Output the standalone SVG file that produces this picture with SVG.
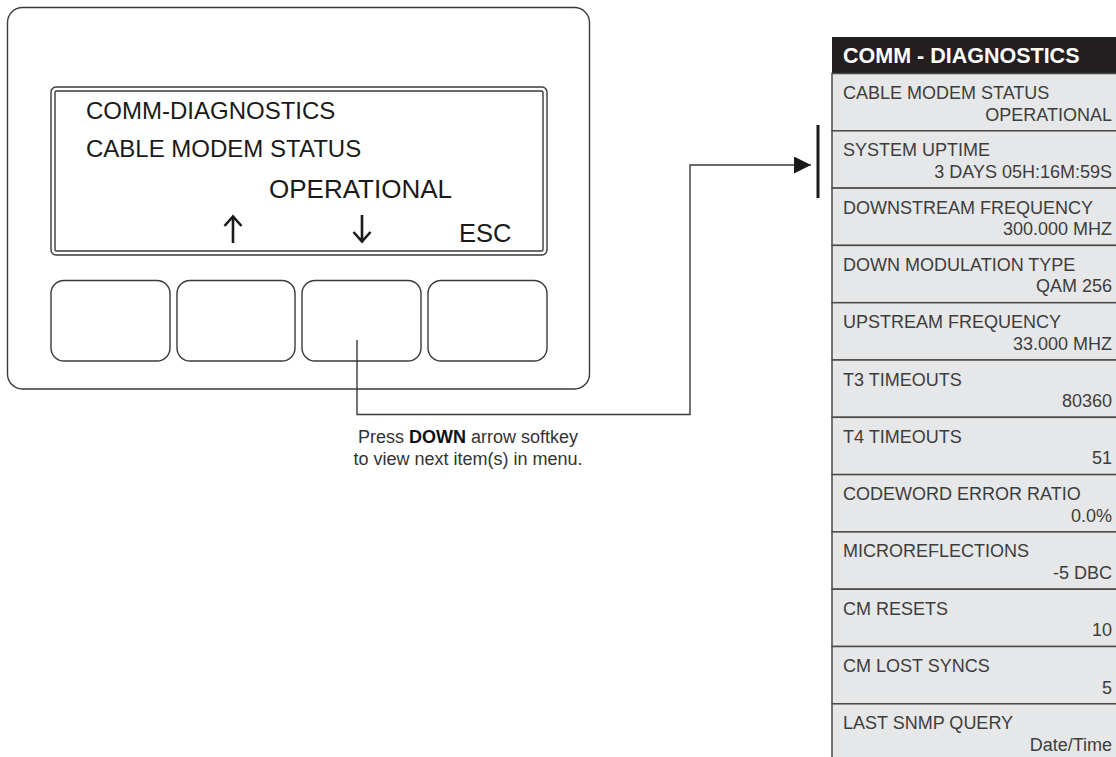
<svg xmlns="http://www.w3.org/2000/svg" width="1116" height="757" viewBox="0 0 1116 757">
<defs>
<style>
.ln{fill:none;stroke:#3a3a3a;stroke-width:1.4}
.lcd{font-family:"Liberation Sans",Arial,sans-serif;fill:#1a1a1a}
.row{fill:#e6e7e8;stroke:#4a4a4a;stroke-width:1.5}
.lab{font-family:"Liberation Sans",Arial,sans-serif;font-size:18px;fill:#3d3d3d}
.val{font-family:"Liberation Sans",Arial,sans-serif;font-size:18px;fill:#3d3d3d;text-anchor:end}
.cap{font-family:"Liberation Sans",Arial,sans-serif;font-size:18px;fill:#333;text-anchor:middle}
.arr{fill:none;stroke:#1a1a1a;stroke-width:2.6;stroke-linecap:butt}
</style>
<marker id="ah" viewBox="0 0 10 10" refX="10" refY="5" markerWidth="17" markerHeight="17" markerUnits="userSpaceOnUse" orient="auto">
<path d="M0,0 L10,5 L0,10 z" fill="#1a1a1a"/>
</marker>
</defs>

<g id="device">
<rect class="ln" x="7.5" y="7.5" width="582" height="381.5" rx="15"/>
</g>

<g id="screen">
<rect class="ln" x="51" y="87" width="496" height="168" rx="5"/>
<rect class="ln" x="55" y="91" width="488" height="160" rx="1.5"/>
<text class="lcd" x="86" y="119" font-size="24">COMM-DIAGNOSTICS</text>
<text class="lcd" x="86" y="157" font-size="24">CABLE MODEM STATUS</text>
<text class="lcd" x="269" y="198" font-size="26">OPERATIONAL</text>
<text class="lcd" x="459" y="242" font-size="25.5">ESC</text>
<path class="arr" d="M233,243 V217 M224.5,226 L233,216.5 L241.5,226"/>
<path class="arr" d="M362,215 V241 M353.5,232 L362,241.5 L370.5,232"/>
</g>

<g id="buttons">
<rect id="btn1" class="ln" x="51" y="280.5" width="119" height="80.5" rx="13"/>
<rect id="btn2" class="ln" x="177" y="280.5" width="118" height="80.5" rx="13"/>
<rect id="btn3" class="ln" x="302" y="280.5" width="119" height="80.5" rx="13"/>
<rect id="btn4" class="ln" x="428" y="280.5" width="119" height="80.5" rx="13"/>
</g>

<g id="connectors">
<path class="ln" d="M357,340 V414.5 H690 V165 H811" marker-end="url(#ah)"/>
<line x1="818" y1="125" x2="818" y2="198" stroke="#1a1a1a" stroke-width="3"/>
</g>

<g id="caption">
<text class="cap" x="468" y="443">Press <tspan font-weight="bold" fill="#111">DOWN</tspan> arrow softkey</text>
<text class="cap" x="468" y="465">to view next item(s) in menu.</text>
</g>

<g id="menu">
<rect x="832" y="37" width="290" height="36.5" fill="#231f20"/>
<text x="843" y="63" font-family="'Liberation Sans',Arial,sans-serif" font-size="21.5" font-weight="bold" fill="#ffffff">COMM - DIAGNOSTICS</text>

<g id="r1"><rect class="row" x="832" y="73.5" width="290" height="57.3"/><text class="lab" x="843" y="99">CABLE MODEM STATUS</text><text class="val" x="1112" y="120.5">OPERATIONAL</text></g>
<g id="r2"><rect class="row" x="832" y="130.8" width="290" height="57.3"/><text class="lab" x="843" y="156.3">SYSTEM UPTIME</text><text class="val" x="1112" y="177.8">3 DAYS 05H:16M:59S</text></g>
<g id="r3"><rect class="row" x="832" y="188.1" width="290" height="57.3"/><text class="lab" x="843" y="213.6">DOWNSTREAM FREQUENCY</text><text class="val" x="1112" y="235.1">300.000 MHZ</text></g>
<g id="r4"><rect class="row" x="832" y="245.4" width="290" height="57.3"/><text class="lab" x="843" y="270.9">DOWN MODULATION TYPE</text><text class="val" x="1112" y="292.4">QAM 256</text></g>
<g id="r5"><rect class="row" x="832" y="302.7" width="290" height="57.3"/><text class="lab" x="843" y="328.2">UPSTREAM FREQUENCY</text><text class="val" x="1112" y="349.7">33.000 MHZ</text></g>
<g id="r6"><rect class="row" x="832" y="360" width="290" height="57.3"/><text class="lab" x="843" y="385.5">T3 TIMEOUTS</text><text class="val" x="1112" y="407">80360</text></g>
<g id="r7"><rect class="row" x="832" y="417.3" width="290" height="57.3"/><text class="lab" x="843" y="442.8">T4 TIMEOUTS</text><text class="val" x="1112" y="464.3">51</text></g>
<g id="r8"><rect class="row" x="832" y="474.6" width="290" height="57.3"/><text class="lab" x="843" y="500.1">CODEWORD ERROR RATIO</text><text class="val" x="1112" y="521.6">0.0%</text></g>
<g id="r9"><rect class="row" x="832" y="531.9" width="290" height="57.3"/><text class="lab" x="843" y="557.4">MICROREFLECTIONS</text><text class="val" x="1112" y="578.9">-5 DBC</text></g>
<g id="r10"><rect class="row" x="832" y="589.2" width="290" height="57.3"/><text class="lab" x="843" y="614.7">CM RESETS</text><text class="val" x="1112" y="636.2">10</text></g>
<g id="r11"><rect class="row" x="832" y="646.5" width="290" height="57.3"/><text class="lab" x="843" y="672">CM LOST SYNCS</text><text class="val" x="1112" y="693.5">5</text></g>
<g id="r12"><rect class="row" x="832" y="703.8" width="290" height="57.3"/><text class="lab" x="843" y="729.3">LAST SNMP QUERY</text><text class="val" x="1112" y="750.8">Date/Time</text></g>
</g>
</svg>
